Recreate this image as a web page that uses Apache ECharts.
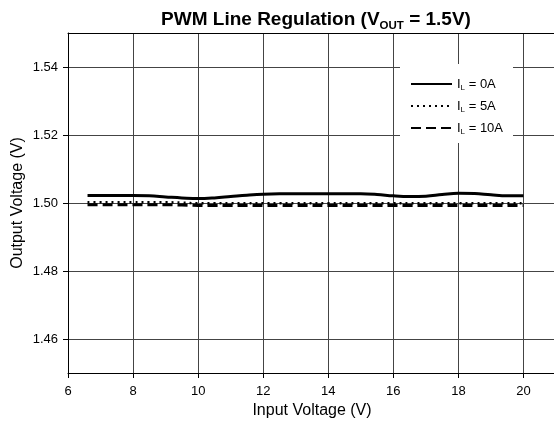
<!DOCTYPE html>
<html>
<head>
<meta charset="utf-8">
<script src="https://cdn.jsdelivr.net/npm/echarts@6/dist/echarts.min.js"></script>
<style>html,body{margin:0;padding:0;background:#fff}#c{width:554px;height:426px}</style>
</head>
<body>
<div id="c"></div>
<script>
const xTicks = [6, 8, 10, 12, 14, 16, 18, 20];
const yTicks = [1.46, 1.48, 1.50, 1.52, 1.54];
const seriesNames = ['I_L = 0A', 'I_L = 5A', 'I_L = 10A'];
const xIn = [6.6, 7, 7.5, 8, 8.5, 9, 9.5, 10, 10.5, 11, 11.5, 12, 12.5, 13, 14, 15, 15.5, 16, 16.5, 17, 17.5, 18, 18.5, 19, 19.5, 20];
const v0A = [1.5022, 1.5022, 1.5022, 1.5022, 1.5021, 1.5018, 1.5015, 1.5013, 1.5015, 1.5019, 1.5023, 1.5026, 1.5027, 1.5027, 1.5027, 1.5027, 1.5025, 1.5021, 1.5019, 1.5020, 1.5025, 1.5029, 1.5028, 1.5024, 1.5021, 1.5021];
const v5A = [1.5002, 1.5002, 1.5002, 1.5002, 1.5002, 1.5002, 1.5001, 1.4999, 1.4999, 1.4999, 1.4999, 1.4999, 1.4999, 1.4999, 1.4999, 1.4999, 1.4999, 1.4999, 1.4999, 1.4999, 1.4999, 1.4999, 1.4999, 1.4999, 1.4999, 1.4999];
const v10A = [1.4995, 1.4995, 1.4995, 1.4995, 1.4995, 1.4995, 1.4994, 1.4993, 1.4993, 1.4993, 1.4993, 1.4993, 1.4993, 1.4993, 1.4993, 1.4993, 1.4993, 1.4993, 1.4993, 1.4993, 1.4993, 1.4993, 1.4993, 1.4993, 1.4993, 1.4993];

const FONT = '"Liberation Sans", Arial, sans-serif';
const pairs = (xs, ys) => xs.map((x, i) => [x, ys[i]]);
const legendLabel = n => {
  const m = n.match(/^I_L(.*)$/);
  return '{a|I}{s|L}{a|' + m[1] + '}';
};

const chart = echarts.init(document.getElementById('c'), null, {renderer: 'canvas'});
chart.setOption({
  animation: false,
  backgroundColor: '#fff',
  textStyle: {fontFamily: FONT, color: '#000'},
  title: {
    text: '{a|PWM Line Regulation (V}{s|OUT}{a| = 1.5V)}',
    left: 316, top: 9, textAlign: 'center', padding: 0,
    textStyle: {
      rich: {
        a: {fontFamily: FONT, fontSize: 19, fontWeight: 'bold', color: '#000', lineHeight: 22, verticalAlign: 'middle'},
        s: {fontFamily: FONT, fontSize: 11.5, fontWeight: 'bold', color: '#000', lineHeight: 22, verticalAlign: 'middle', padding: [12, 0, 0, 0]}
      }
    }
  },
  grid: {left: 68, top: 33, right: -2, bottom: 53, containLabel: false, outerBoundsMode: 'none'},
  legend: {
    left: 400, top: 64, orient: 'vertical',
    backgroundColor: '#fff', padding: [12, 10, 7, 10],
    itemWidth: 41, itemHeight: 14, itemGap: 6,
    data: seriesNames,
    formatter: legendLabel,
    itemStyle: {color: 'transparent', borderColor: 'transparent', borderWidth: 0, opacity: 0},
    textStyle: {
      rich: {
        a: {fontFamily: FONT, fontSize: 13, color: '#000', lineHeight: 14, verticalAlign: 'middle'},
        s: {fontFamily: FONT, fontSize: 8, color: '#000', lineHeight: 14, verticalAlign: 'middle', padding: [8, 0, 0, 0]}
      }
    }
  },
  xAxis: [{
    type: 'value', min: 6, max: 21, interval: 2,
    name: 'Input Voltage (V)', nameLocation: 'middle', nameGap: 30, nameMoveOverlap: false,
    nameTextStyle: {fontFamily: FONT, fontSize: 16, color: '#000'},
    axisLine: {show: true, onZero: false, lineStyle: {color: '#000', width: 1}},
    axisTick: {show: true, length: 5, inside: false, customValues: xTicks, lineStyle: {color: '#000'}},
    axisLabel: {customValues: xTicks, margin: 12, fontSize: 13, color: '#000', fontFamily: FONT},
    splitLine: {show: true, lineStyle: {color: '#444', width: 1}}
  }, {
    type: 'value', min: 6, max: 21, position: 'top',
    axisLine: {show: true, onZero: false, lineStyle: {color: '#000', width: 1}},
    axisTick: {show: false}, axisLabel: {show: false}, splitLine: {show: false}
  }],
  yAxis: {
    type: 'value', min: 1.45, max: 1.55,
    name: 'Output Voltage (V)', nameLocation: 'middle', nameGap: 42, nameMoveOverlap: false,
    nameTextStyle: {fontFamily: FONT, fontSize: 16, color: '#000'},
    axisLine: {show: true, onZero: false, lineStyle: {color: '#000', width: 1}},
    axisTick: {show: true, length: 5, customValues: yTicks, lineStyle: {color: '#000'}},
    axisLabel: {customValues: yTicks, margin: 10, fontSize: 13, color: '#000', fontFamily: FONT,
      formatter: v => v.toFixed(2)},
    splitLine: {show: true, lineStyle: {color: '#444', width: 1}}
  },
  series: [
    {name: seriesNames[0], type: 'line', smooth: 0.4, symbol: 'none', data: pairs(xIn, v0A),
     lineStyle: {color: '#000', width: 3, type: 'solid'}, itemStyle: {color: '#000'}, z: 3},
    {name: seriesNames[1], type: 'line', smooth: 0.4, symbol: 'none', data: pairs(xIn, v5A),
     lineStyle: {color: '#000', width: 2.5, type: [2, 4]}, itemStyle: {color: '#000'}, z: 2},
    {name: seriesNames[2], type: 'line', smooth: 0.4, symbol: 'none', data: pairs(xIn, v10A),
     lineStyle: {color: '#000', width: 3, type: [10, 5]}, itemStyle: {color: '#000'}, z: 2}
  ]
});
</script>
</body>
</html>
